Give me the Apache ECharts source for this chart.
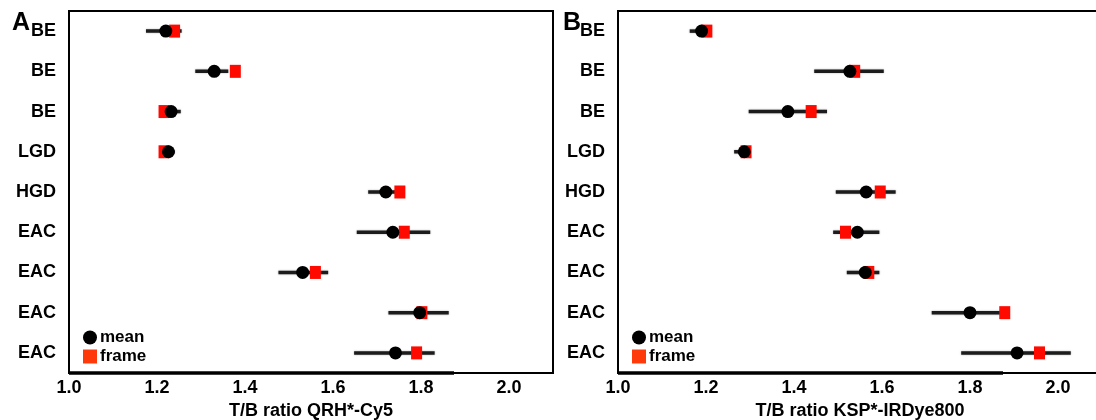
<!DOCTYPE html>
<html>
<head>
<meta charset="utf-8">
<script src="https://cdn.jsdelivr.net/npm/echarts@6.0.0/dist/echarts.min.js"></script>
<style>
html,body{margin:0;padding:0;background:#fff;}
#main{width:1096px;height:420px;}
</style>
</head>
<body>
<div id="main"></div>
<script>
let categories=["BE","BE","BE","LGD","HGD","EAC","EAC","EAC","EAC"];
let xTicks=[1.0,1.2,1.4,1.6,1.8,2.0];
let xMin=1.0, xMax=2.1;
// panel A : T/B ratio QRH*-Cy5
let meanA=[1.22,1.33,1.232,1.226,1.72,1.736,1.531,1.797,1.742];
let frameA=[1.24,1.378,1.216,1.216,1.752,1.762,1.56,1.802,1.79];
let lowA=[1.175,1.287,1.207,1.21,1.68,1.654,1.476,1.726,1.648];
let highA=[1.256,1.362,1.254,1.24,1.76,1.821,1.589,1.863,1.831];
// panel B : T/B ratio KSP*-IRDye800
let meanB=[1.19,1.527,1.386,1.287,1.564,1.544,1.562,1.80,1.907];
let frameB=[1.202,1.538,1.439,1.291,1.596,1.517,1.57,1.879,1.958];
let lowB=[1.163,1.446,1.297,1.264,1.495,1.489,1.52,1.713,1.78];
let highB=[1.20,1.604,1.475,1.301,1.631,1.594,1.594,1.88,2.029];
// the drawn axis line stops a bit before the frame end
let axisEnd=[1.875,1.875];

let font='"Liberation Sans", Arial, sans-serif';
let red='#ff0a00';

let chart=echarts.init(document.getElementById('main'),null,{renderer:'canvas'});

function errData(low,high){
    let out=[];
    for(let i=0;i<low.length;i++){
        out.push([low[i],high[i],i]);
    }
    return out;
}
function pts(arr){
    return arr.map(function(v,i){return [v,i];});
}
function renderErr(params,api){
    let y=api.value(2);
    let p1=api.coord([api.value(0),y]);
    let p2=api.coord([api.value(1),y]);
    return {
        type:'line',
        shape:{x1:p1[0],y1:p1[1],x2:p2[0],y2:p2[1]},
        style:{stroke:'#1c1c1c',lineWidth:3.5,shadowBlur:2,shadowColor:'rgba(0,0,0,0.35)'}
    };
}
function renderAxisBar(params,api){
    let y=api.value(2);
    let half=api.size([0,1])[1]/2;
    let p1=api.coord([api.value(0),y]);
    let p2=api.coord([api.value(1),y]);
    return {
        type:'line',
        shape:{x1:p1[0],y1:p1[1]+half,x2:p2[0],y2:p2[1]+half},
        style:{stroke:'#000',lineWidth:3.5}
    };
}

function xAxisOpt(idx,name){
    return {
        type:'value',gridIndex:idx,min:xMin,max:xMax,interval:0.2,
        name:name,nameLocation:'middle',nameGap:27,
        nameTextStyle:{fontFamily:font,fontWeight:'bold',fontSize:18,color:'#000'},
        axisLine:{lineStyle:{color:'#000',width:2}},
        axisTick:{length:4,lineStyle:{color:'#000',width:1.5}},
        splitLine:{show:false},
        axisLabel:{
            fontFamily:font,fontWeight:'bold',fontSize:18,color:'#000',margin:6,
            formatter:function(v){
                let r=Math.round(v*10)/10;
                return xTicks.indexOf(r)>=0?r.toFixed(1):'';
            }
        }
    };
}
// second bottom axis only for the inner half of the ticks
function xTickInner(idx){
    return {
        type:'value',gridIndex:idx,min:xMin,max:xMax,interval:0.2,position:'bottom',
        axisLine:{show:false},axisLabel:{show:false},splitLine:{show:false},
        axisTick:{inside:true,length:4,lineStyle:{color:'#000',width:1.5}}
    };
}
function yAxisOpt(idx){
    return {
        type:'category',gridIndex:idx,data:categories,inverse:true,
        axisLine:{lineStyle:{color:'#000',width:2}},
        axisTick:{alignWithLabel:true,length:10,lineStyle:{color:'#000',width:2}},
        axisLabel:{fontFamily:font,fontWeight:'bold',fontSize:18,color:'#000',margin:13},
        splitLine:{show:false}
    };
}
function legendOpt(left){
    return {
        left:left,top:324,orient:'vertical',itemGap:2,itemWidth:14,itemHeight:14,
        textStyle:{fontFamily:font,fontWeight:'bold',fontSize:17,color:'#000',padding:[0,0,0,-2]},
        data:[
            {name:'mean',icon:'circle'},
            {name:'frame',icon:'rect',itemStyle:{color:'#ff3a0a'}}
        ]
    };
}
function panelSeries(idx,mean,frame,low,high){
    return [
        {type:'custom',xAxisIndex:idx,yAxisIndex:idx,renderItem:renderAxisBar,
         data:[[xMin,axisEnd[idx],categories.length-1]],encode:{x:[0,1],y:2},z:1,silent:true},
        {type:'custom',name:'err',xAxisIndex:idx,yAxisIndex:idx,renderItem:renderErr,
         data:errData(low,high),encode:{x:[0,1],y:2},z:2},
        {type:'scatter',name:'frame',xAxisIndex:idx,yAxisIndex:idx,symbol:'rect',symbolSize:[11,13],
         itemStyle:{color:red,opacity:1},data:pts(frame),z:3},
        {type:'scatter',name:'mean',xAxisIndex:idx,yAxisIndex:idx,symbol:'circle',symbolSize:13,
         itemStyle:{color:'#000',opacity:1},data:pts(mean),z:4}
    ];
}

let option={
    animation:false,
    backgroundColor:'#fff',
    title:[
        {text:'A',left:7,top:6,textStyle:{fontFamily:font,fontWeight:'bold',fontSize:25,color:'#000'}},
        {text:'B',left:558,top:6,textStyle:{fontFamily:font,fontWeight:'bold',fontSize:25,color:'#000'}}
    ],
    grid:[
        {left:69,top:11,width:484,height:362,show:true,borderColor:'#000',borderWidth:2,outerBoundsMode:'none'},
        {left:618,top:11,width:484,height:362,show:true,borderColor:'#000',borderWidth:2,outerBoundsMode:'none'}
    ],
    xAxis:[xAxisOpt(0,'T/B ratio QRH*-Cy5'),xAxisOpt(1,'T/B ratio KSP*-IRDye800'),xTickInner(0),xTickInner(1)],
    yAxis:[yAxisOpt(0),yAxisOpt(1)],
    legend:[legendOpt(78),legendOpt(627)],
    series:panelSeries(0,meanA,frameA,lowA,highA).concat(panelSeries(1,meanB,frameB,lowB,highB))
};
chart.setOption(option);
</script>
</body>
</html>
